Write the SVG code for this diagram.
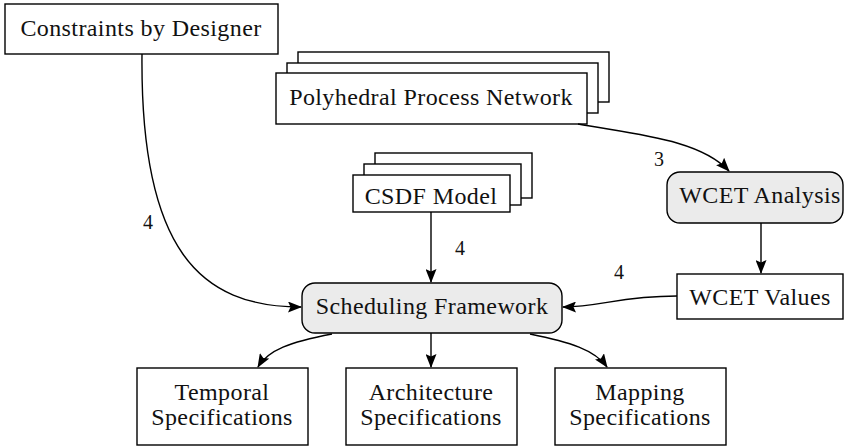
<svg xmlns="http://www.w3.org/2000/svg" width="845" height="448" viewBox="0 0 845 448">
<style>
.box{fill:#fff;stroke:#000;stroke-width:1.4}
.rbox{fill:#ebebeb;stroke:#000;stroke-width:1.4}
.t{font-family:"Liberation Serif",serif;font-size:24px;letter-spacing:0.4px;fill:#111;text-anchor:middle}
.l{font-family:"Liberation Serif",serif;font-size:20px;fill:#111;text-anchor:middle}
.c{fill:none;stroke:#000;stroke-width:1.4;marker-end:url(#ah)}
</style>
<defs>
<marker id="ah" viewBox="0 0 14 11" refX="13" refY="5.5" markerWidth="14" markerHeight="11" markerUnits="userSpaceOnUse" orient="auto">
<path d="M0,0 L14,5.5 L0,11 L2.5,5.5 Z" fill="#000"/>
</marker>
</defs>
<g id="constraints">
<rect class="box" x="5" y="4" width="273" height="50"/>
<text class="t" x="141" y="36">Constraints by Designer</text>
</g>
<g id="ppn">
<rect class="box" x="298" y="52" width="311" height="50"/>
<rect class="box" x="287" y="63" width="311" height="50"/>
<rect class="box" x="276" y="73" width="311" height="51"/>
<text class="t" x="431" y="105">Polyhedral Process Network</text>
</g>
<g id="csdf">
<rect class="box" x="375" y="153" width="157" height="45"/>
<rect class="box" x="364" y="164" width="157" height="41"/>
<rect class="box" x="353" y="175" width="157" height="37"/>
<text class="t" x="431" y="204">CSDF Model</text>
</g>
<g id="wcet-analysis">
<rect class="rbox" x="667" y="172" width="176" height="51" rx="13"/>
<text class="t" x="760" y="203">WCET Analysis</text>
</g>
<g id="wcet-values">
<rect class="box" x="677" y="274" width="166" height="45"/>
<text class="t" x="760" y="305">WCET Values</text>
</g>
<g id="scheduling">
<rect class="rbox" x="302" y="283" width="260" height="50" rx="13"/>
<text class="t" x="432" y="314">Scheduling Framework</text>
</g>
<g id="temporal">
<rect class="box" x="137" y="368" width="171" height="77"/>
<text class="t" x="222" y="400">Temporal</text>
<text class="t" x="222" y="425">Specifications</text>
</g>
<g id="architecture">
<rect class="box" x="346" y="368" width="171" height="77"/>
<text class="t" x="431" y="400">Architecture</text>
<text class="t" x="431" y="425">Specifications</text>
</g>
<g id="mapping">
<rect class="box" x="555" y="368" width="171" height="77"/>
<text class="t" x="640" y="400">Mapping</text>
<text class="t" x="640" y="425">Specifications</text>
</g>
<g id="connectors">
<path class="c" d="M142,54 C140,250 200,307 301,307"/>
<path class="c" d="M431,212 L431,282"/>
<path class="c" d="M761,223 L761,273"/>
<path class="c" d="M677,296 C620,296 600,307 563,307"/>
<path class="c" d="M578,124 C640,135 700,140 729,171"/>
<path class="c" d="M332,334 C290,342 268,350 258,367"/>
<path class="c" d="M431,333 L431,367"/>
<path class="c" d="M530,334 C570,342 595,350 607,367"/>
<text class="l" x="148" y="229">4</text>
<text class="l" x="460" y="255">4</text>
<text class="l" x="619" y="279">4</text>
<text class="l" x="659" y="166">3</text>
</g>
</svg>
